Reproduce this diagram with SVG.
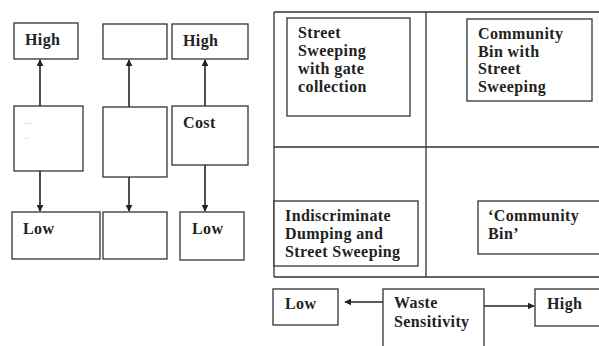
<svg xmlns="http://www.w3.org/2000/svg" width="599" height="346" viewBox="0 0 599 346">
<style>
.b{fill:#fff;stroke:#333;stroke-width:1.3}
.l{fill:none;stroke:#333;stroke-width:1.3}
.c{fill:none;stroke:#222;stroke-width:1.6}
text{font-family:"Liberation Serif","Times New Roman",serif;font-weight:bold;font-size:16px;fill:#222;letter-spacing:0.4px}
.d{font-size:7px;fill:#999;font-weight:normal;letter-spacing:0}
</style>
<defs>
<marker id="ah" viewBox="0 0 10 10" refX="9" refY="5" markerWidth="7" markerHeight="7" markerUnits="userSpaceOnUse" orient="auto">
<path d="M0,0 L10,5 L0,10 z" fill="#222"/>
</marker>
</defs>
<rect width="599" height="346" fill="#fff"/>
<g id="frame">
<path class="l" d="M274,12 H599 M274,12 V277 M426,12 V277 M274,147 H599 M274,277 H599"/>
</g>
<g id="connectors">
<path class="c" d="M40,106 V60" marker-end="url(#ah)"/>
<path class="c" d="M40,171 V211" marker-end="url(#ah)"/>
<path class="c" d="M129,107 V60" marker-end="url(#ah)"/>
<path class="c" d="M129,177 V211" marker-end="url(#ah)"/>
<path class="c" d="M205,106 V60" marker-end="url(#ah)"/>
<path class="c" d="M205,165 V211" marker-end="url(#ah)"/>
<path class="c" d="M383,302 H345" marker-end="url(#ah)"/>
<path class="c" d="M484,306 H534" marker-end="url(#ah)"/>
</g>
<g id="high1"><rect class="b" x="14" y="23" width="64" height="36"/><text x="25" y="45">High</text></g>
<g id="top2"><rect class="b" x="103" y="24" width="64" height="35"/></g>
<g id="high3"><rect class="b" x="172" y="24" width="76" height="35"/><text x="183" y="46">High</text></g>
<g id="mid1"><rect class="b" x="14" y="106" width="69" height="65"/><text class="d" x="25" y="125">—</text><text class="d" x="25" y="140">–</text></g>
<g id="mid2"><rect class="b" x="103" y="107" width="64" height="70"/></g>
<g id="cost"><rect class="b" x="172" y="106" width="76" height="59"/><text x="183" y="128">Cost</text></g>
<g id="low1"><rect class="b" x="12" y="212" width="88" height="47"/><text x="23" y="234">Low</text></g>
<g id="low2"><rect class="b" x="103" y="212" width="64" height="47"/></g>
<g id="low3"><rect class="b" x="180" y="212" width="64" height="48"/><text x="192" y="234">Low</text></g>
<g id="q1"><rect class="b" x="287" y="18" width="123" height="98"/><text x="298" y="38">Street</text><text x="298" y="56">Sweeping</text><text x="298" y="74">with gate</text><text x="298" y="92">collection</text></g>
<g id="q2"><rect class="b" x="467" y="19" width="125" height="82"/><text x="478" y="39">Community</text><text x="478" y="57">Bin with</text><text x="478" y="74">Street</text><text x="478" y="92">Sweeping</text></g>
<g id="q3"><rect class="b" x="274" y="201" width="144" height="65"/><text x="285" y="221">Indiscriminate</text><text x="285" y="239">Dumping and</text><text x="285" y="257">Street Sweeping</text></g>
<g id="q4"><rect class="b" x="478" y="201" width="130" height="53"/><text x="488" y="221">‘Community</text><text x="488" y="239">Bin’</text></g>
<g id="lowx"><rect class="b" x="273" y="289" width="65" height="36"/><text x="285" y="309">Low</text></g>
<g id="waste"><rect class="b" x="383" y="289" width="101" height="70"/><text x="394" y="308">Waste</text><text x="394" y="327">Sensitivity</text></g>
<g id="highx"><rect class="b" x="535" y="289" width="70" height="37"/><text x="547" y="309">High</text></g>
</svg>
